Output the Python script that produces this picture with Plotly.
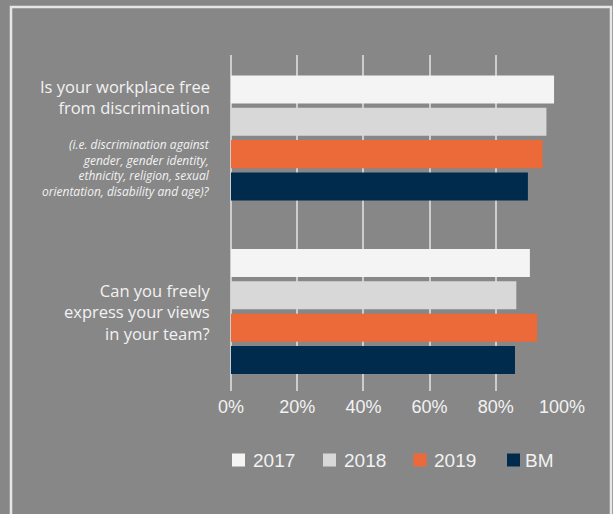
import plotly.graph_objects as go

# ---- data ----
categories = ["Discrimination-free workplace", "Freely express views"]
series_names = ["2017", "2018", "2019", "BM"]
v2017 = [97.6, 90.3]
v2018 = [95.3, 86.2]
v2019 = [94.1, 92.5]
vBM = [89.7, 85.8]
tick_values = [0, 20, 40, 60, 80, 100]
tick_labels = ["0%", "20%", "40%", "60%", "80%", "100%"]
q1_main = "Is your workplace free<br>from discrimination"
q1_note = ("(i.e. discrimination against<br>gender, gender identity,<br>"
           "ethnicity, religion, sexual<br>orientation, disability and age)?")
q2_main = "Can you freely<br>express your views<br>in your team?"

colors = ["#f4f4f4", "#d8d8d8", "#ec6a3a", "#012b4c"]
values = [v2017, v2018, v2019, vBM]

W, H = 613, 514
L, R, T, B = 231, 562, 55, 391  # plot area in pixels


def px(x):
    return (x - L) / (R - L)


def py(y):
    return (B - y) / (B - T)


fig = go.Figure()
for name, vals, col in zip(series_names, values, colors):
    fig.add_trace(go.Bar(
        y=categories, x=vals, name=name, orientation="h",
        marker=dict(color=col, line=dict(width=0)),
        showlegend=False,
    ))

text_col = "#f2f2f2"
label_font = "'Open Sans', Lato, sans-serif"

annotations = [
    dict(text=q1_main, x=px(212), xref="paper", y=0, yref="y",
         xanchor="right", yanchor="middle", align="right", yshift=41,
         showarrow=False, font=dict(family=label_font, size=16.5, color=text_col)),
    dict(text="<i>" + q1_note + "</i>", x=px(212), xref="paper", y=0, yref="y",
         xanchor="right", yanchor="middle", align="right", yshift=-30,
         showarrow=False, font=dict(family=label_font, size=12, color=text_col)),
    dict(text=q2_main, x=px(212), xref="paper", y=1, yref="y",
         xanchor="right", yanchor="middle", align="right", yshift=0,
         showarrow=False, font=dict(family=label_font, size=16.5, color=text_col)),
]

shapes = [
    dict(type="rect", xref="paper", yref="paper",
         x0=px(11), x1=px(611), y0=py(7), y1=py(540),
         line=dict(color="#e6e6e6", width=2.5), fillcolor="rgba(0,0,0,0)",
         layer="below"),
]

# manual legend
leg_sq_x = [232, 323, 413.5, 507]
leg_txt_x = [251, 342, 432, 523]
leg_y = 460
for name, col, sx, tx in zip(series_names, colors, leg_sq_x, leg_txt_x):
    shapes.append(dict(type="rect", xref="paper", yref="paper",
                       x0=px(sx), x1=px(sx + 13), y0=py(leg_y + 6.5), y1=py(leg_y - 6.5),
                       fillcolor=col, line=dict(width=0)))
    annotations.append(dict(text=name, x=px(tx), xref="paper", y=py(leg_y), yref="paper",
                            xanchor="left", yanchor="middle", showarrow=False,
                            font=dict(family="'Liberation Sans', Arial, sans-serif",
                                      size=19, color=text_col)))

fig.update_layout(
    width=W, height=H,
    margin=dict(l=L, r=W - R, t=T, b=H - B, pad=0),
    paper_bgcolor="#878787", plot_bgcolor="#878787",
    barmode="group", bargap=0.255, bargroupgap=0.133,
    showlegend=False,
    annotations=annotations, shapes=shapes,
    xaxis=dict(range=[0, 100], tickvals=tick_values, ticktext=tick_labels,
               showgrid=True, gridcolor="#cdcdcd", gridwidth=1.5,
               zeroline=True, zerolinecolor="#cdcdcd", zerolinewidth=1.5,
               showline=False, ticks="", ticklabelstandoff=3,
               tickfont=dict(family="'Liberation Sans', Arial, sans-serif",
                             size=18, color=text_col),
               fixedrange=True),
    yaxis=dict(type="category", categoryorder="array", categoryarray=categories,
               range=[1.458, -0.478], showticklabels=False, showgrid=False,
               zeroline=False, showline=False, ticks=""),
)

fig.write_html("out.html")
